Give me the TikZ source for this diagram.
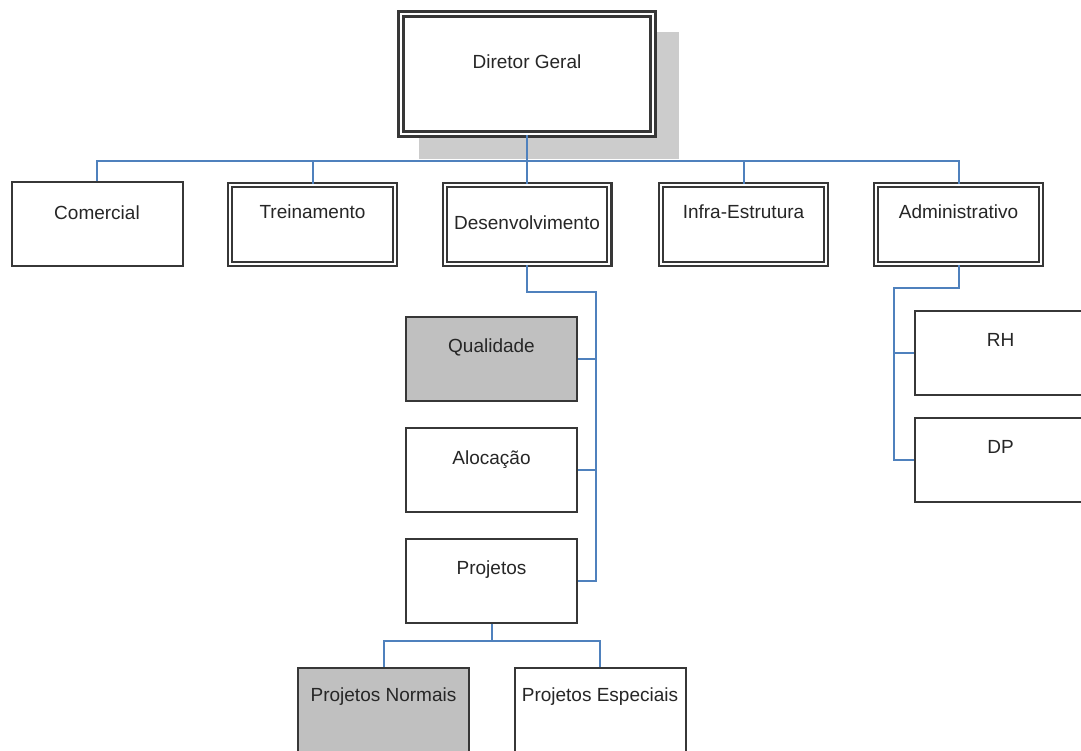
\documentclass[tikz,border=0pt]{standalone}
\usepackage{fontspec}
\setmainfont{Liberation Sans}
\definecolor{connc}{RGB}{79,129,189}
\definecolor{bord}{RGB}{55,55,55}
\definecolor{fillg}{RGB}{192,192,192}
\definecolor{shad}{RGB}{204,204,204}
\begin{document}
\begin{tikzpicture}[x=1pt,y=-1pt,
  box/.style={draw=bord, line width=2pt, fill=white, minimum width=171pt, minimum height=84pt, inner sep=0pt},
  dbox/.style={draw=bord, line width=2.2pt, double=white, double distance=2pt, fill=white, minimum width=164.6pt, minimum height=78.6pt, inner sep=0pt},
  greybox/.style={fill=fillg},
  lbl/.style={font=\fontsize{19}{22}\selectfont, text=black!85, inner sep=0pt},
  conn/.style={draw=connc, line width=2pt}]
\useasboundingbox (0,0) rectangle (1081,751);
\clip (0,0) rectangle (1081,751);
% shadow of director
\fill[shad] (419,32) rectangle (679,159);
% nodes
\node[dbox, line width=2.6pt, double distance=2.4pt, minimum width=252.4pt, minimum height=120.4pt] (dir) at (527,74) {};
\node[box] (com) at (97,224.5) {};
\node[dbox] (tre) at (312.5,224.5) {};
\node[dbox] (des) at (527,224.5) {};
\node[dbox] (inf) at (743.5,224.5) {};
\node[dbox] (adm) at (958.5,224.5) {};
\node[box, greybox] (qual) at (491.5,358.5) {};
\node[box] (aloc) at (491.5,469.5) {};
\node[box] (proj) at (491.5,581) {};
\node[box, greybox] (pn) at (383.5,709.5) {};
\node[box] (pe) at (600,709.5) {};
\node[box] (rh) at (1000.5,353) {};
\node[box] (dp) at (1000.5,459.5) {};
% connectors
\coordinate (bus) at (0,161);
\draw[conn] (dir.south) -- (dir.south |- bus);
\draw[conn] (com.north) -- (com.north |- bus) -- (adm.north |- bus) -- (adm.north);
\draw[conn] (tre.north) -- (tre.north |- bus);
\draw[conn] (des.north) -- (des.north |- bus);
\draw[conn] (inf.north) -- (inf.north |- bus);
\coordinate (dturn) at (596,292);
\draw[conn] (des.south) |- (dturn) -- (proj.east -| dturn) -- (proj.east);
\draw[conn] (qual.east) -- (qual.east -| dturn);
\draw[conn] (aloc.east) -- (aloc.east -| dturn);
\coordinate (aturn) at (894,288);
\draw[conn] (adm.south) |- (aturn) -- (dp.west -| aturn) -- (dp.west);
\draw[conn] (rh.west) -- (rh.west -| aturn);
\coordinate (pbus) at (0,641);
\draw[conn] (proj.south) -- (proj.south |- pbus);
\draw[conn] (pn.north) -- (pn.north |- pbus) -- (pe.north |- pbus) -- (pe.north);
% texts
\node[lbl] (tdir) at (527,62) {Diretor Geral};
\node[lbl] (tcom) at (97,213) {Comercial};
\node[lbl] (ttre) at (312.5,212) {Treinamento};
\node[lbl] (tdes) at (527,223) {Desenvolvimento};
\node[lbl] (tinf) at (743.5,212) {Infra-Estrutura};
\node[lbl] (tadm) at (958.5,212) {Administrativo};
\node[lbl] (tqual) at (491.5,347) {Qualidade};
\node[lbl] (taloc) at (491.5,460) {Alocação};
\node[lbl] (tproj) at (491.5,570) {Projetos};
\node[lbl] (tpn) at (383.5,697) {Projetos Normais};
\node[lbl] (tpe) at (600,697) {Projetos Especiais};
\node[lbl] (trh) at (1000.5,340) {RH};
\node[lbl] (tdp) at (1000.5,447) {DP};
\end{tikzpicture}
\end{document}
